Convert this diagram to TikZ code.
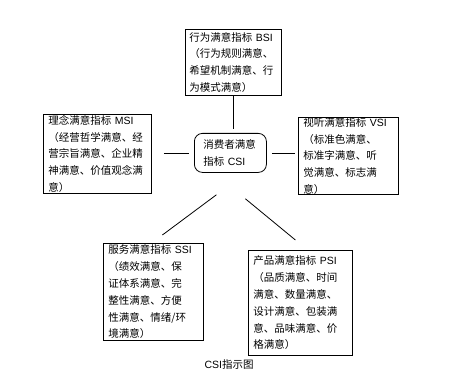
\documentclass[tikz,border=0pt]{standalone}
\usepackage{fontspec}
\setmainfont{Noto Sans CJK SC}
\newfontfamily\latn{Liberation Sans}
\begin{document}
\begin{tikzpicture}[x=1pt,y=1pt,
  every node/.style={font=\fontsize{10.5}{16.8}\selectfont},
  box/.style={draw=black,line width=0.8pt,anchor=north west,align=left,inner xsep=5pt,inner ysep=0pt},
  conn/.style={draw=black,line width=0.8pt}]
\useasboundingbox[fill=white] (0,0) rectangle (458,381);
\node[box,inner xsep=4pt,text width=88pt,minimum height=66pt] (bsi) at (185,352) {行为满意指标 {\latn BSI}\\（行为规则满意、\\希望机制满意、行\\为模式满意）};
\node[box,text width=98pt,minimum height=79pt] (msi) at (43,267) {理念满意指标 {\latn MSI}\\（经营哲学满意、经\\营宗旨满意、企业精\\神满意、价值观念满\\意）};
\node[box,text width=90pt,minimum height=76pt] (vsi) at (298,264) {视听满意指标 {\latn VSI}\\（标准色满意、\\标准字满意、听\\觉满意、标志满\\意）};
\node[box,rounded corners=8pt,inner xsep=9pt,text width=54pt,minimum height=39pt] (csi) at (194,248) {消费者满意\\指标 {\latn CSI}};
\node[box,text width=90pt,minimum height=97pt] (ssi) at (103,138) {服务满意指标 {\latn SSI}\\（绩效满意、保\\证体系满意、完\\整性满意、方便\\性满意、情绪/环\\境满意）};
\node[box,text width=94pt,minimum height=105pt] (psi) at (248,131) {产品满意指标 {\latn PSI}\\（品质满意、时间\\满意、数量满意、\\设计满意、包装满\\意、品味满意、价\\格满意）};
\node (cap) at (229,16) {{\latn CSI}指示图};
\draw[conn] (bsi.south) -- ([yshift=4pt]bsi.south |- csi.north);
\draw[conn] ([xshift=12pt]msi.east |- csi.west) -- ([xshift=-5pt]csi.west);
\draw[conn] ([xshift=5pt]csi.east) -- ([xshift=-3pt]csi.east -| vsi.west);
\draw[conn] ([shift={(9,8)}]ssi.north) -- ([shift={(-14,-22)}]csi.south);
\draw[conn] ([shift={(-5,10)}]psi.north) -- ([shift={(15,-26)}]csi.south);
\end{tikzpicture}
\end{document}
